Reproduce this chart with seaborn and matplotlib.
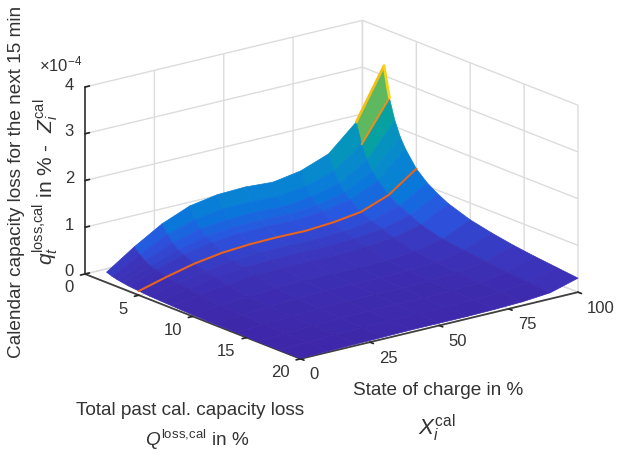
import numpy as np
import matplotlib
matplotlib.use("Agg")
import matplotlib.pyplot as plt
import seaborn as sns
from mpl_toolkits.mplot3d import proj3d

soc_values = [0, 10, 20, 30, 40, 50, 60, 70, 80, 90, 100]
q_values = [2, 2.5, 3, 3.5, 4, 5, 6, 7, 8, 10, 12, 14, 16, 18, 20]
loss_q2 = [.22, .62, .97, 1.21, 1.31, 1.33, 1.29, 1.39, 1.61, 2.15, 3.21]
loss_q2_5 = [.18, .50, .78, .97, 1.05, 1.06, 1.03, 1.11, 1.29, 1.72, 2.57]
loss_q3 = [.15, .41, .65, .81, .87, .89, .86, .93, 1.07, 1.43, 2.14]
loss_q3_5 = [.13, .35, .55, .69, .75, .76, .74, .79, .92, 1.23, 1.83]
loss_q4 = [.11, .31, .49, .61, .66, .67, .65, .70, .81, 1.08, 1.61]
loss_q5 = [.09, .25, .39, .48, .52, .53, .52, .56, .64, .86, 1.28]
loss_q6 = [.07, .21, .32, .40, .44, .44, .43, .46, .54, .72, 1.07]
loss_q7 = [.06, .18, .28, .35, .37, .38, .37, .40, .46, .61, .92]
loss_q8 = [.05, .14, .21, .27, .29, .29, .28, .31, .36, .50, .80]
loss_q10 = [.03, .09, .14, .18, .20, .20, .19, .21, .25, .37, .64]
loss_q12 = [.02, .07, .11, .14, .16, .16, .15, .17, .20, .32, .54]
loss_q14 = [.02, .05, .08, .11, .12, .12, .11, .13, .16, .26, .46]
loss_q16 = [.01, .04, .06, .08, .09, .09, .09, .10, .12, .21, .40]
loss_q18 = [.01, .03, .05, .06, .07, .07, .07, .08, .10, .17, .35]
loss_q20 = [.01, .02, .03, .04, .05, .05, .05, .06, .08, .13, .30]
q_ticks = [0, 5, 10, 15, 20]
soc_ticks = [0, 25, 50, 75, 100]
z_ticks = [0, 1, 2, 3, 4]

sns.set_theme(style="white")
plt.rcParams["font.family"] = ["Liberation Sans", "DejaVu Sans"]
plt.rcParams.update({
    "mathtext.fontset": "custom",
    "mathtext.rm": "Liberation Sans",
    "mathtext.it": "Liberation Sans:italic",
    "mathtext.bf": "Liberation Sans:bold",
})

cmap = sns.blend_palette(
    ["#3e26a8", "#3b35bc", "#2a55e0", "#0a76dc", "#0886d0", "#068fc4",
     "#049fa8", "#20ad80", "#8cc048", "#e6c030", "#f9fb15"], as_cmap=True)

W, H = 619, 456
fig = plt.figure(figsize=(W / 100, H / 100), dpi=100)
ax = fig.add_axes([0, 0, 1, 1], projection="3d", proj_type="ortho", computed_zorder=False)
ax.patch.set_alpha(0)
ax.view_init(elev=17.9, azim=-38)
ax.set_box_aspect((351, 353, 197))
ax.set_xlim(0, 20, view_margin=0)
ax.set_ylim(0, 100, view_margin=0)
ax.set_zlim(0, 4, view_margin=0)

Z = np.array([loss_q2, loss_q2_5, loss_q3, loss_q3_5, loss_q4, loss_q5, loss_q6, loss_q7,
              loss_q8, loss_q10, loss_q12, loss_q14, loss_q16, loss_q18, loss_q20])
Y, X = np.meshgrid(soc_values, q_values)
surf = ax.plot_surface(X, Y, Z, cmap=cmap, vmin=0, vmax=3.2, rstride=1, cstride=1,
                       linewidth=0.5, shade=False, antialiased=True, zorder=2)
surf.set_edgecolor("face")

ax.plot(np.full(11, 5), soc_values, loss_q5, color="#e8641e", lw=1.5, zorder=4)
ax.plot([2, 2], soc_values[-2:], loss_q2[-2:], color="#f5bd18", lw=2, zorder=4)
ax.plot([2.5, 2.5], soc_values[-2:], loss_q2_5[-2:], color="#e8901e", lw=1.5, zorder=4)
ax.plot([2, 2.5], [100, 100], [loss_q2[-1], loss_q2_5[-1]], color="#f5d518", lw=2, zorder=4)

ax.set_xticks(q_ticks)
ax.set_yticks(soc_ticks)
ax.set_zticks(z_ticks)
ax.xaxis.set_ticklabels([])
ax.yaxis.set_ticklabels([])
ax.zaxis.set_ticklabels([])
for axis in (ax.xaxis, ax.yaxis, ax.zaxis):
    axis.set_pane_color((1, 1, 1, 0))
    axis.pane.set_edgecolor("#d9d9d9")
    axis.line.set_color("#404040")
    axis.line.set_linewidth(1.3)
    axis._axinfo["grid"].update(color="#dcdcdc", linewidth=1.0)
    axis._axinfo["tick"].update(inward_factor=0.2, outward_factor=0.0, color="#404040")
ax.zaxis._axinfo["tick"].update(inward_factor=0.0, outward_factor=0.2)
ax.zaxis.set_ticks_position("lower")
ax.grid(True)

# fit the 3-D box onto the reference's pixel position
fig.canvas.draw()
def corner(x, y, z):
    a, b, _ = proj3d.proj_transform(x, y, z, ax.get_proj())
    return ax.transData.transform((a, b))
L0, R0 = corner(0, 0, 0), corner(20, 100, 0)
target_L = np.array([85, H - 275.0])
target_R = np.array([578, H - 294.0])
bb = ax.get_position()
S0 = bb.width * W
k = (target_R[0] - target_L[0]) / (R0[0] - L0[0])
S = S0 * k
c0 = np.array([(bb.x0 + bb.width / 2) * W, (bb.y0 + bb.height / 2) * H])
c = target_L - (L0 - c0) * k
ax.set_position([(c[0] - S / 2) / W, (c[1] - S / 2) / H, S / W, S / H])
fig.canvas.draw()

tc = "#333333"
def t(px, py, s, size=13.7, **kw):
    kw.setdefault("ha", "center")
    fig.text(px / W, 1 - py / H, s, fontsize=size, color=tc, va="center", **kw)

# tick labels, anchored on the projected tick positions
for v in q_ticks:
    p = corner(v, 0, 0)
    t(p[0] - 11, H - p[1] + 13, str(v), size=12, ha="right")
for v in soc_ticks:
    p = corner(20, v, 0)
    t(p[0] + 9, H - p[1] + 15, str(v), size=12, ha="left")
for v in z_ticks:
    p = corner(0, 0, v)
    t(p[0] - 11, H - p[1] - 3, str(v), size=12, ha="right")

t(17, 182, "Calendar capacity loss for the next 15 min", rotation=90)
t(46, 182, r"$q_t^{\mathrm{loss{,}cal}}$ in % -  $Z_i^{\mathrm{cal}}$", size=15, rotation=90)
t(438, 391, "State of charge in %")
t(437, 428, r"$X_i^{\mathrm{cal}}$", size=16)
t(190, 411, "Total past cal. capacity loss")
t(197, 440, r"$Q^{\mathrm{loss{,}cal}}$ in %")
t(61, 64, r"$\times 10^{-4}$", size=12)

fig.savefig("out.png", dpi=100)
